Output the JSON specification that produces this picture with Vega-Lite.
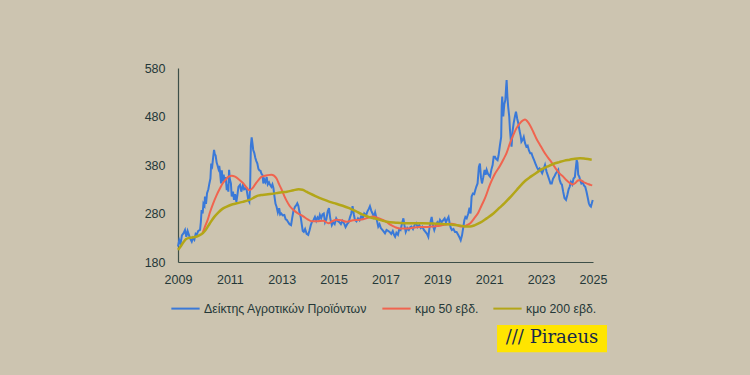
{
  "$schema": "https://vega.github.io/schema/vega-lite/v6.json",
  "width": 415,
  "height": 194,
  "autosize": {"type": "none"},
  "padding": {"left": 178, "top": 68, "right": 157, "bottom": 113},
  "background": "#ccc4b0",
  "config": {"view": {"stroke": null}, "font": "Liberation Sans"},
  "datasets": {
    "idx": [
      {"t":2009.00,"v":212},{"t":2009.05,"v":225},{"t":2009.10,"v":218},{"t":2009.15,"v":235},{"t":2009.22,"v":240},{"t":2009.27,"v":246},{"t":2009.32,"v":232},{"t":2009.37,"v":244},{"t":2009.42,"v":236},{"t":2009.47,"v":228},{"t":2009.53,"v":222},{"t":2009.58,"v":230},{"t":2009.63,"v":226},{"t":2009.68,"v":238},{"t":2009.72,"v":236},{"t":2009.78,"v":244},{"t":2009.85,"v":246},{"t":2009.88,"v":262},{"t":2009.91,"v":287},{"t":2009.95,"v":280},{"t":2009.98,"v":300},
      {"t":2010.02,"v":296},{"t":2010.04,"v":315},{"t":2010.08,"v":300},{"t":2010.12,"v":322},{"t":2010.17,"v":330},{"t":2010.21,"v":342},{"t":2010.25,"v":352},{"t":2010.28,"v":383},{"t":2010.32,"v":378},{"t":2010.36,"v":398},{"t":2010.39,"v":411},{"t":2010.42,"v":402},{"t":2010.45,"v":400},{"t":2010.49,"v":385},{"t":2010.52,"v":380},{"t":2010.56,"v":372},{"t":2010.59,"v":378},{"t":2010.62,"v":366},{"t":2010.66,"v":342},{"t":2010.69,"v":369},{"t":2010.72,"v":346},{"t":2010.76,"v":360},{"t":2010.80,"v":345},{"t":2010.84,"v":355},{"t":2010.88,"v":328},{"t":2010.91,"v":340},{"t":2010.94,"v":325},{"t":2010.97,"v":370},
      {"t":2011.00,"v":350},{"t":2011.04,"v":342},{"t":2011.07,"v":315},{"t":2011.12,"v":325},{"t":2011.16,"v":308},{"t":2011.20,"v":320},{"t":2011.25,"v":304},{"t":2011.29,"v":318},{"t":2011.33,"v":335},{"t":2011.39,"v":339},{"t":2011.44,"v":325},{"t":2011.50,"v":338},{"t":2011.55,"v":330},{"t":2011.60,"v":332},{"t":2011.65,"v":328},{"t":2011.68,"v":318},{"t":2011.71,"v":308},{"t":2011.75,"v":304},{"t":2011.78,"v":335},{"t":2011.81,"v":420},{"t":2011.84,"v":437},{"t":2011.87,"v":425},{"t":2011.90,"v":411},{"t":2011.94,"v":405},{"t":2011.98,"v":395},
      {"t":2012.02,"v":388},{"t":2012.06,"v":383},{"t":2012.10,"v":372},{"t":2012.14,"v":369},{"t":2012.18,"v":368},{"t":2012.22,"v":362},{"t":2012.26,"v":359},{"t":2012.29,"v":342},{"t":2012.33,"v":350},{"t":2012.37,"v":345},{"t":2012.42,"v":355},{"t":2012.46,"v":340},{"t":2012.51,"v":344},{"t":2012.55,"v":339},{"t":2012.60,"v":335},{"t":2012.64,"v":340},{"t":2012.68,"v":332},{"t":2012.72,"v":315},{"t":2012.76,"v":300},{"t":2012.80,"v":294},{"t":2012.85,"v":282},{"t":2012.90,"v":291},{"t":2012.94,"v":278},{"t":2012.98,"v":280},
      {"t":2013.04,"v":276},{"t":2013.10,"v":277},{"t":2013.15,"v":268},{"t":2013.19,"v":267},{"t":2013.25,"v":262},{"t":2013.30,"v":258},{"t":2013.36,"v":256},{"t":2013.40,"v":270},{"t":2013.45,"v":285},{"t":2013.51,"v":294},{"t":2013.56,"v":297},{"t":2013.60,"v":301},{"t":2013.64,"v":296},{"t":2013.68,"v":284},{"t":2013.73,"v":273},{"t":2013.77,"v":258},{"t":2013.81,"v":244},{"t":2013.85,"v":242},{"t":2013.90,"v":248},{"t":2013.96,"v":238},
      {"t":2014.02,"v":236},{"t":2014.07,"v":245},{"t":2014.12,"v":256},{"t":2014.16,"v":262},{"t":2014.22,"v":266},{"t":2014.28,"v":273},{"t":2014.33,"v":265},{"t":2014.38,"v":272},{"t":2014.43,"v":268},{"t":2014.47,"v":277},{"t":2014.52,"v":270},{"t":2014.57,"v":278},{"t":2014.62,"v":280},{"t":2014.67,"v":262},{"t":2014.72,"v":268},{"t":2014.77,"v":284},{"t":2014.82,"v":291},{"t":2014.87,"v":270},{"t":2014.93,"v":256},{"t":2014.98,"v":262},
      {"t":2015.04,"v":258},{"t":2015.10,"v":270},{"t":2015.15,"v":265},{"t":2015.22,"v":262},{"t":2015.28,"v":258},{"t":2015.34,"v":265},{"t":2015.40,"v":260},{"t":2015.46,"v":252},{"t":2015.52,"v":258},{"t":2015.58,"v":262},{"t":2015.63,"v":272},{"t":2015.68,"v":280},{"t":2015.73,"v":295},{"t":2015.78,"v":278},{"t":2015.82,"v":267},{"t":2015.88,"v":264},{"t":2015.94,"v":270},
      {"t":2016.00,"v":266},{"t":2016.06,"v":274},{"t":2016.12,"v":270},{"t":2016.18,"v":280},{"t":2016.25,"v":276},{"t":2016.30,"v":284},{"t":2016.36,"v":290},{"t":2016.40,"v":295},{"t":2016.45,"v":286},{"t":2016.50,"v":280},{"t":2016.55,"v":273},{"t":2016.60,"v":282},{"t":2016.66,"v":268},{"t":2016.72,"v":253},{"t":2016.77,"v":258},{"t":2016.82,"v":250},{"t":2016.88,"v":246},{"t":2016.94,"v":242},{"t":2016.98,"v":239},
      {"t":2017.04,"v":246},{"t":2017.10,"v":244},{"t":2017.16,"v":242},{"t":2017.22,"v":238},{"t":2017.28,"v":244},{"t":2017.33,"v":236},{"t":2017.37,"v":232},{"t":2017.42,"v":240},{"t":2017.48,"v":236},{"t":2017.53,"v":248},{"t":2017.58,"v":246},{"t":2017.63,"v":258},{"t":2017.69,"v":270},{"t":2017.73,"v":256},{"t":2017.78,"v":242},{"t":2017.84,"v":250},{"t":2017.90,"v":246},{"t":2017.96,"v":252},
      {"t":2018.00,"v":253},{"t":2018.06,"v":248},{"t":2018.12,"v":256},{"t":2018.18,"v":260},{"t":2018.24,"v":252},{"t":2018.30,"v":256},{"t":2018.36,"v":250},{"t":2018.42,"v":253},{"t":2018.48,"v":246},{"t":2018.54,"v":242},{"t":2018.60,"v":238},{"t":2018.65,"v":232},{"t":2018.70,"v":252},{"t":2018.75,"v":266},{"t":2018.78,"v":273},{"t":2018.83,"v":255},{"t":2018.88,"v":246},{"t":2018.94,"v":256},
      {"t":2019.00,"v":262},{"t":2019.05,"v":258},{"t":2019.10,"v":267},{"t":2019.16,"v":262},{"t":2019.22,"v":266},{"t":2019.28,"v":270},{"t":2019.33,"v":262},{"t":2019.38,"v":268},{"t":2019.43,"v":273},{"t":2019.48,"v":258},{"t":2019.52,"v":250},{"t":2019.56,"v":246},{"t":2019.62,"v":248},{"t":2019.68,"v":242},{"t":2019.74,"v":242},{"t":2019.80,"v":236},{"t":2019.86,"v":230},{"t":2019.90,"v":225},{"t":2019.95,"v":235},
      {"t":2020.00,"v":252},{"t":2020.04,"v":266},{"t":2020.08,"v":273},{"t":2020.13,"v":270},{"t":2020.19,"v":280},{"t":2020.24,"v":292},{"t":2020.28,"v":280},{"t":2020.32,"v":315},{"t":2020.37,"v":321},{"t":2020.42,"v":320},{"t":2020.46,"v":328},{"t":2020.50,"v":335},{"t":2020.55,"v":342},{"t":2020.60,"v":376},{"t":2020.64,"v":383},{"t":2020.68,"v":355},{"t":2020.72,"v":342},{"t":2020.77,"v":355},{"t":2020.82,"v":370},{"t":2020.86,"v":360},{"t":2020.90,"v":370},{"t":2020.95,"v":362},
      {"t":2021.00,"v":358},{"t":2021.03,"v":356},{"t":2021.08,"v":370},{"t":2021.13,"v":380},{"t":2021.17,"v":397},{"t":2021.22,"v":397},{"t":2021.27,"v":392},{"t":2021.32,"v":390},{"t":2021.36,"v":400},{"t":2021.41,"v":420},{"t":2021.46,"v":438},{"t":2021.48,"v":500},{"t":2021.50,"v":521},{"t":2021.54,"v":480},{"t":2021.58,"v":505},{"t":2021.62,"v":514},{"t":2021.65,"v":540},{"t":2021.67,"v":555},{"t":2021.70,"v":521},{"t":2021.73,"v":500},{"t":2021.77,"v":480},{"t":2021.80,"v":452},{"t":2021.84,"v":425},{"t":2021.86,"v":418},{"t":2021.90,"v":450},{"t":2021.94,"v":466},{"t":2021.99,"v":480},
      {"t":2022.03,"v":490},{"t":2022.08,"v":475},{"t":2022.12,"v":466},{"t":2022.17,"v":450},{"t":2022.21,"v":440},{"t":2022.24,"v":428},{"t":2022.29,"v":432},{"t":2022.33,"v":438},{"t":2022.38,"v":425},{"t":2022.43,"v":418},{"t":2022.48,"v":420},{"t":2022.53,"v":410},{"t":2022.58,"v":404},{"t":2022.63,"v":404},{"t":2022.68,"v":396},{"t":2022.73,"v":390},{"t":2022.78,"v":383},{"t":2022.84,"v":375},{"t":2022.89,"v":370},{"t":2022.94,"v":373},{"t":2022.99,"v":368},
      {"t":2023.04,"v":363},{"t":2023.10,"v":372},{"t":2023.15,"v":380},{"t":2023.21,"v":366},{"t":2023.26,"v":358},{"t":2023.31,"v":350},{"t":2023.36,"v":342},{"t":2023.41,"v":342},{"t":2023.46,"v":352},{"t":2023.51,"v":356},{"t":2023.56,"v":362},{"t":2023.61,"v":366},{"t":2023.66,"v":370},{"t":2023.71,"v":350},{"t":2023.76,"v":342},{"t":2023.80,"v":340},{"t":2023.85,"v":325},{"t":2023.90,"v":312},{"t":2023.96,"v":308},
      {"t":2024.01,"v":318},{"t":2024.06,"v":330},{"t":2024.10,"v":335},{"t":2024.15,"v":345},{"t":2024.20,"v":340},{"t":2024.25,"v":352},{"t":2024.30,"v":355},{"t":2024.34,"v":375},{"t":2024.37,"v":390},{"t":2024.40,"v":385},{"t":2024.43,"v":360},{"t":2024.47,"v":356},{"t":2024.51,"v":348},{"t":2024.55,"v":342},{"t":2024.60,"v":345},{"t":2024.65,"v":338},{"t":2024.70,"v":335},{"t":2024.75,"v":325},{"t":2024.80,"v":312},{"t":2024.84,"v":301},{"t":2024.88,"v":296},{"t":2024.92,"v":294},{"t":2024.96,"v":302},{"t":2024.99,"v":308}
    ],
    "ma50": [
      {"t":2009.95,"v":240},{"t":2010.04,"v":253},{"t":2010.15,"v":268},{"t":2010.23,"v":282},{"t":2010.35,"v":300},{"t":2010.49,"v":318},{"t":2010.62,"v":332},{"t":2010.72,"v":342},{"t":2010.81,"v":348},{"t":2010.95,"v":356},{"t":2011.07,"v":358},{"t":2011.20,"v":356},{"t":2011.35,"v":350},{"t":2011.52,"v":342},{"t":2011.65,"v":333},{"t":2011.75,"v":328},{"t":2011.90,"v":334},{"t":2012.00,"v":342},{"t":2012.10,"v":349},{"t":2012.20,"v":355},{"t":2012.29,"v":357},{"t":2012.45,"v":359},{"t":2012.60,"v":360},{"t":2012.70,"v":358},{"t":2012.80,"v":352},{"t":2012.90,"v":340},{"t":2012.99,"v":330},{"t":2013.10,"v":316},{"t":2013.19,"v":306},{"t":2013.30,"v":296},{"t":2013.45,"v":287},{"t":2013.60,"v":281},{"t":2013.83,"v":274},{"t":2014.00,"v":268},{"t":2014.15,"v":264},{"t":2014.35,"v":264},{"t":2014.60,"v":265},{"t":2014.80,"v":260},{"t":2014.95,"v":264},{"t":2015.10,"v":267},{"t":2015.30,"v":266},{"t":2015.50,"v":263},{"t":2015.75,"v":266},{"t":2016.00,"v":267},{"t":2016.25,"v":270},{"t":2016.53,"v":274},{"t":2016.70,"v":271},{"t":2016.85,"v":268},{"t":2016.98,"v":265},{"t":2017.15,"v":258},{"t":2017.37,"v":252},{"t":2017.55,"v":249},{"t":2017.75,"v":249},{"t":2018.00,"v":250},{"t":2018.30,"v":252},{"t":2018.55,"v":252},{"t":2018.78,"v":253},{"t":2019.00,"v":254},{"t":2019.20,"v":256},{"t":2019.40,"v":258},{"t":2019.55,"v":259},{"t":2019.75,"v":256},{"t":2019.94,"v":253},{"t":2020.10,"v":255},{"t":2020.27,"v":260},{"t":2020.42,"v":270},{"t":2020.58,"v":282},{"t":2020.70,"v":296},{"t":2020.84,"v":312},{"t":2021.03,"v":340},{"t":2021.20,"v":360},{"t":2021.41,"v":378},{"t":2021.55,"v":392},{"t":2021.67,"v":405},{"t":2021.80,"v":425},{"t":2021.93,"v":442},{"t":2022.05,"v":456},{"t":2022.18,"v":466},{"t":2022.30,"v":472},{"t":2022.38,"v":474},{"t":2022.47,"v":470},{"t":2022.57,"v":462},{"t":2022.70,"v":448},{"t":2022.82,"v":434},{"t":2022.95,"v":422},{"t":2023.08,"v":410},{"t":2023.20,"v":400},{"t":2023.34,"v":390},{"t":2023.47,"v":380},{"t":2023.60,"v":370},{"t":2023.72,"v":362},{"t":2023.85,"v":356},{"t":2023.97,"v":349},{"t":2024.10,"v":343},{"t":2024.22,"v":340},{"t":2024.32,"v":343},{"t":2024.42,"v":348},{"t":2024.50,"v":349},{"t":2024.60,"v":346},{"t":2024.70,"v":343},{"t":2024.80,"v":341},{"t":2024.90,"v":339},{"t":2024.97,"v":338}
    ],
    "ma200": [
      {"t":2009.00,"v":205},{"t":2009.10,"v":212},{"t":2009.20,"v":220},{"t":2009.30,"v":227},{"t":2009.45,"v":230},{"t":2009.60,"v":231},{"t":2009.75,"v":233},{"t":2009.90,"v":237},{"t":2010.05,"v":245},{"t":2010.23,"v":260},{"t":2010.40,"v":273},{"t":2010.55,"v":282},{"t":2010.70,"v":289},{"t":2010.88,"v":294},{"t":2011.05,"v":298},{"t":2011.26,"v":301},{"t":2011.50,"v":304},{"t":2011.70,"v":307},{"t":2011.90,"v":312},{"t":2012.03,"v":316},{"t":2012.20,"v":318},{"t":2012.40,"v":319},{"t":2012.55,"v":320},{"t":2012.80,"v":322},{"t":2013.00,"v":324},{"t":2013.20,"v":325},{"t":2013.45,"v":328},{"t":2013.65,"v":330},{"t":2013.80,"v":329},{"t":2013.95,"v":325},{"t":2014.10,"v":321},{"t":2014.30,"v":316},{"t":2014.60,"v":309},{"t":2014.85,"v":304},{"t":2015.10,"v":300},{"t":2015.35,"v":296},{"t":2015.60,"v":291},{"t":2015.85,"v":285},{"t":2016.10,"v":278},{"t":2016.40,"v":272},{"t":2016.65,"v":269},{"t":2016.90,"v":265},{"t":2017.05,"v":263},{"t":2017.40,"v":261},{"t":2017.70,"v":260},{"t":2018.00,"v":260},{"t":2018.40,"v":260},{"t":2018.98,"v":259},{"t":2019.30,"v":258},{"t":2019.60,"v":257},{"t":2019.90,"v":255},{"t":2020.10,"v":253},{"t":2020.26,"v":253},{"t":2020.45,"v":256},{"t":2020.65,"v":261},{"t":2020.90,"v":270},{"t":2021.16,"v":280},{"t":2021.40,"v":292},{"t":2021.60,"v":302},{"t":2021.85,"v":316},{"t":2022.05,"v":328},{"t":2022.18,"v":336},{"t":2022.40,"v":348},{"t":2022.60,"v":356},{"t":2022.82,"v":364},{"t":2023.05,"v":372},{"t":2023.25,"v":377},{"t":2023.46,"v":382},{"t":2023.70,"v":386},{"t":2023.90,"v":389},{"t":2024.10,"v":391},{"t":2024.30,"v":393},{"t":2024.50,"v":394},{"t":2024.70,"v":393},{"t":2024.95,"v":391}
    ]
  },
  "layer": [
    {
      "data": {"name": "idx"},
      "mark": {"type": "line", "strokeWidth": 2},
      "encoding": {
        "x": {
          "field": "t", "type": "quantitative",
          "scale": {"domain": [2009, 2025], "nice": false, "zero": false},
          "axis": {"title": null, "values": [2009, 2011, 2013, 2015, 2017, 2019, 2021, 2023, 2025], "format": "d", "grid": false, "ticks": false, "labelPadding": 11, "domainColor": "#3d4f48", "domainWidth": 1.2, "labelColor": "#243838", "labelFontSize": 12.5, "labelFlush": false}
        },
        "y": {
          "field": "v", "type": "quantitative",
          "scale": {"domain": [180, 580], "nice": false, "zero": false},
          "axis": {"title": null, "values": [180, 280, 380, 480, 580], "grid": false, "ticks": false, "labelPadding": 13, "domainColor": "#3d4f48", "domainWidth": 1.2, "labelColor": "#243838", "labelFontSize": 12.5}
        },
        "color": {
          "datum": "Δείκτης Αγροτικών Προϊόντων",
          "scale": {"domain": ["Δείκτης Αγροτικών Προϊόντων", "κμο 50 εβδ.", "κμο 200 εβδ."], "range": ["#3a79d8", "#f0644f", "#b3a618"]},
          "legend": {"title": null, "orient": "none", "legendX": -8, "legendY": 225, "direction": "horizontal", "symbolType": "stroke", "symbolStrokeWidth": 2, "symbolSize": 800, "labelFontSize": 12.3, "labelLimit": 400, "labelColor": "#243838", "columnPadding": 10, "labelOffset": 3}
        }
      }
    },
    {
      "data": {"name": "ma50"},
      "mark": {"type": "line", "strokeWidth": 2, "interpolate": "monotone"},
      "encoding": {
        "x": {"field": "t", "type": "quantitative", "scale": {"domain": [2009, 2025], "nice": false, "zero": false}},
        "y": {"field": "v", "type": "quantitative", "scale": {"domain": [180, 580], "nice": false, "zero": false}},
        "color": {"datum": "κμο 50 εβδ."}
      }
    },
    {
      "data": {"name": "ma200"},
      "mark": {"type": "line", "strokeWidth": 2.5, "interpolate": "monotone"},
      "encoding": {
        "x": {"field": "t", "type": "quantitative", "scale": {"domain": [2009, 2025], "nice": false, "zero": false}},
        "y": {"field": "v", "type": "quantitative", "scale": {"domain": [180, 580], "nice": false, "zero": false}},
        "color": {"datum": "κμο 200 εβδ."}
      }
    },
    {
      "data": {"values": [{}]},
      "mark": {"type": "rect", "color": "#ffe500"},
      "encoding": {
        "x": {"datum": 2021.3, "type": "quantitative", "scale": {"domain": [2009, 2025], "nice": false, "zero": false}},
        "x2": {"datum": 2025.54},
        "y": {"datum": 50, "type": "quantitative", "scale": {"domain": [180, 580], "nice": false, "zero": false}},
        "y2": {"datum": -6}
      }
    },
    {
      "data": {"values": [{}]},
      "mark": {"type": "text", "text": "/// Piraeus", "font": "DejaVu Serif", "fontSize": 18, "color": "#17294a", "align": "center", "baseline": "middle"},
      "encoding": {
        "x": {"datum": 2023.42, "type": "quantitative", "scale": {"domain": [2009, 2025], "nice": false, "zero": false}},
        "y": {"datum": 23, "type": "quantitative", "scale": {"domain": [180, 580], "nice": false, "zero": false}}
      }
    }
  ]
}
